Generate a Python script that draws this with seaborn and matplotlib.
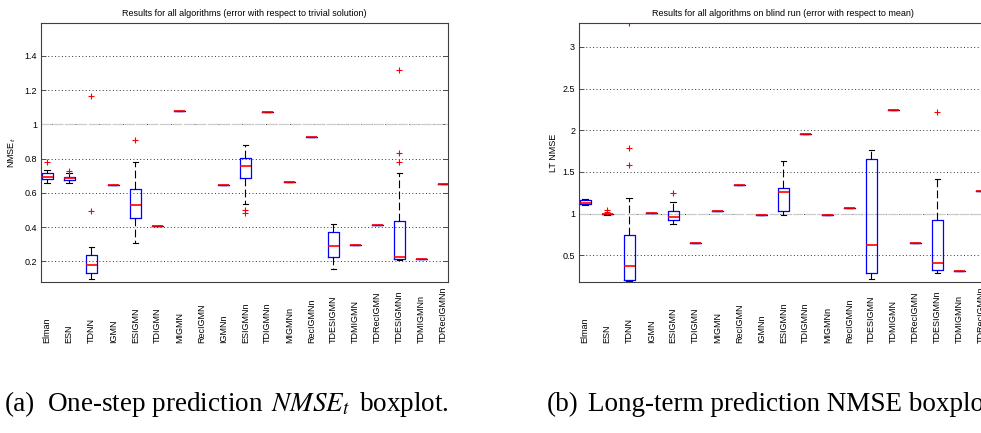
import numpy as np
import pandas as pd
import matplotlib
matplotlib.use('Agg')
import matplotlib.pyplot as plt
import seaborn as sns
from matplotlib.ticker import FuncFormatter

algos = ['Elman', 'ESN', 'TDNN', 'IGMN', 'ESIGMN', 'TDIGMN', 'MIGMN', 'RecIGMN',
         'IGMNn', 'ESIGMNn', 'TDIGMNn', 'MIGMNn', 'RecIGMNn', 'TDESIGMN',
         'TDMIGMN', 'TDRecIGMN', 'TDESIGMNn', 'TDMIGMNn', 'TDRecIGMNn']

# (a) one-step NMSE_t, one value per run (RecIGMN shows nothing in range)
nmse_t = [
    [0.660, 0.670, 0.680, 0.690, 0.695, 0.705, 0.717, 0.732, 0.781],
    [0.660, 0.668, 0.674, 0.680, 0.685, 0.690, 0.695, 0.716, 0.729],
    [0.097, 0.115, 0.128, 0.134, 0.150, 0.165, 0.179, 0.195, 0.215, 0.237, 0.282, 0.492, 1.167],
    [0.648],
    [0.307, 0.400, 0.453, 0.490, 0.531, 0.580, 0.623, 0.781, 0.907],
    [0.409],
    [1.078],
    [],
    [0.645],
    [0.482, 0.498, 0.534, 0.685, 0.700, 0.730, 0.759, 0.770, 0.790, 0.802, 0.830, 0.860, 0.881],
    [1.072],
    [0.661],
    [0.928],
    [0.157, 0.200, 0.224, 0.260, 0.290, 0.330, 0.373, 0.400, 0.416],
    [0.296],
    [0.410],
    [0.205, 0.207, 0.209, 0.211, 0.212, 0.216, 0.220, 0.224, 0.227, 0.260, 0.330, 0.400,
     0.435, 0.716, 0.778, 0.835, 1.316],
    [0.214],
    [0.651],
]

# (b) long-term NMSE on the blind run
lt_nmse = [
    [1.108, 1.110, 1.112, 1.120, 1.128, 1.150, 1.164, 1.168, 1.172],
    [0.985, 0.988, 0.990, 0.990, 0.990, 0.995, 1.000, 1.020, 1.045],
    [0.196, 0.198, 0.200, 0.202, 0.204, 0.240, 0.280, 0.320, 0.368, 0.420, 0.500, 0.620,
     0.740, 1.188, 1.588, 1.788, 3.290],
    [1.005],
    [0.876, 0.900, 0.920, 0.940, 0.964, 1.000, 1.032, 1.136, 1.252],
    [0.644],
    [1.032],
    [1.348],
    [0.980],
    [0.980, 1.000, 1.028, 1.150, 1.260, 1.280, 1.304, 1.450, 1.636],
    [1.952],
    [0.980],
    [1.064],
    [0.212, 0.250, 0.288, 0.450, 0.620, 1.200, 1.660, 1.720, 1.764],
    [2.244],
    [0.644],
    [0.288, 0.300, 0.320, 0.360, 0.412, 0.700, 0.924, 1.412, 2.220],
    [0.312],
    [1.272],
]

plt.rcParams['font.family'] = ['Liberation Sans', 'DejaVu Sans']


def long_df(runs):
    rows = [(a, v) for a, vals in zip(algos, runs) for v in vals]
    return pd.DataFrame(rows, columns=['algo', 'val'])


def draw(ax, runs, ylim, yticks, title, ylabel, label_x):
    sns.boxplot(data=long_df(runs), x='algo', y='val', order=algos, ax=ax,
                width=0.5, fill=False, whis=1.5, color='blue',
                boxprops=dict(color='#0000ff', linewidth=0.9),
                medianprops=dict(color='#ff0000', linewidth=1.2, zorder=4),
                whiskerprops=dict(color='black', linewidth=0.8, linestyle=(0, (7, 3))),
                capprops=dict(color='black', linewidth=0.8),
                flierprops=dict(marker='+', markeredgecolor='#ff0000',
                                markerfacecolor='none', markersize=4.5, markeredgewidth=0.8))
    ax.set_xlim(-0.27, 18.2)
    ax.set_ylim(*ylim)
    ax.set_yticks(yticks)
    ax.yaxis.set_major_formatter(FuncFormatter(lambda v, p: '%g' % round(v, 2)))
    ax.grid(axis='y', linestyle=(0, (1, 2.5)), color='0.2', linewidth=0.7, zorder=0)
    ax.axhline(1.0, color='0.8', linestyle=(0, (8, 1.5)), linewidth=0.9, zorder=1.5)
    ax.set_axisbelow(True)
    for s in ax.spines.values():
        s.set_color('0.25')
        s.set_linewidth(0.8)
    ax.tick_params(axis='y', direction='in', left=True, right=True, length=3.5,
                   width=0.7, color='0.3', labelsize=6.5, pad=3)
    ax.set_xticks(range(len(algos)))
    ax.set_xticklabels(algos, rotation=90, va='bottom', ha='center', fontsize=6.5)
    ax.tick_params(axis='x', length=0, pad=44)
    ax.set_xlabel('')
    ax.set_title(title, fontsize=6.5, pad=5)
    ax.set_ylabel(ylabel, fontsize=6.5)
    ax.yaxis.set_label_coords(label_x, 0.5)


fig = plt.figure(figsize=(9.81, 4.33), dpi=100)
ax1 = fig.add_axes([0.0421, 0.348, 0.4143, 0.5995])
ax2 = fig.add_axes([0.5905, 0.348, 0.4143, 0.5995])

draw(ax1, nmse_t, (0.077, 1.594), [0.2, 0.4, 0.6, 0.8, 1.0, 1.2, 1.4],
     'Results for all algorithms (error with respect to trivial solution)',
     r'NMSE$_t$', -0.057)
draw(ax2, lt_nmse, (0.176, 3.29), [0.5, 1.0, 1.5, 2.0, 2.5, 3.0],
     'Results for all algorithms on blind run (error with respect to mean)',
     'LT NMSE', -0.052)

# sub-figure captions (label and text set apart like subfig does)
cap_y = (433 - 411) / 433
cap = dict(fontsize=19.5, family='Liberation Serif', va='baseline')
fig.text(5 / 981, cap_y, '(a)', **cap)
fig.text(47 / 981, cap_y, r'One-step prediction $\,NMSE_t\,$ boxplot.', math_fontfamily='stix', **cap)
fig.text(547 / 981, cap_y, '(b)', **cap)
fig.text(588 / 981, cap_y, 'Long-term prediction NMSE boxplot.', **cap)

fig.savefig('out.png', dpi=100)
